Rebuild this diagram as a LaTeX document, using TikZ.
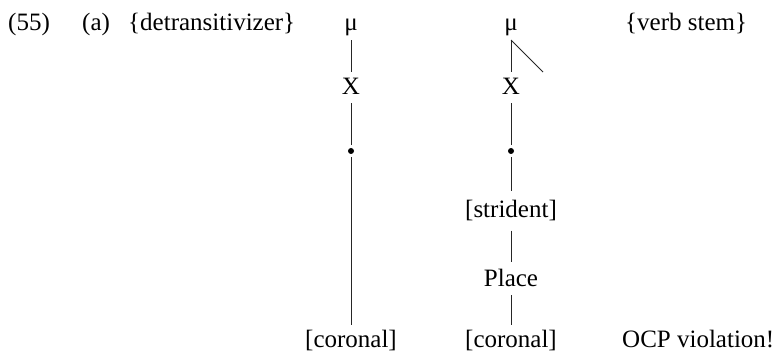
\documentclass[tikz,border=0pt]{standalone}
\usepackage{fontspec}
\setmainfont{Liberation Serif}
\begin{document}
\begin{tikzpicture}[x=1pt,y=-1pt,
  lab/.style={inner sep=0pt, anchor=base, font=\fontsize{25}{30}\selectfont},
  labl/.style={lab, anchor=base west},
  assoc/.style={line width=0.9pt, draw=black!85},
  dotnode/.style={circle, fill=black, inner sep=0pt, minimum size=6pt}]
\useasboundingbox (0,0) rectangle (779,355);
% top row
\node[labl] (ex) at (8,31) {(55)};
\node[labl] (sub) at (82,31) {(a)};
\node[labl] (detr) at (128,31) {\{detransitivizer\}};
\node[labl] (verb) at (625,31) {\{verb stem\}};
% left column
\node[lab] (mu1) at (351,31) {μ};
\node[lab] (x1) at (351,95) {X};
\node[dotnode] (d1) at (351,151) {};
\node[lab] (cor1) at (351,348) {[coronal]};
% right column
\node[lab] (mu2) at (511,31) {μ};
\node[lab] (x2) at (511,95) {X};
\node[dotnode] (d2) at (511,151) {};
\node[lab] (str) at (511,218) {[strident]};
\node[lab] (pl) at (511,287) {Place};
\node[lab] (cor2) at (511,348) {[coronal]};
\node[labl] (ocp) at (622,348) {OCP violation!};
\coordinate (m2top) at (511,40);
\coordinate (diagend) at (543,72);
% connectors
\draw[assoc, shorten <=3.6pt, shorten >=6.5pt] (mu1.south) -- (x1.north);
\draw[assoc, shorten <=8pt, shorten >=3pt] (x1.south) -- (d1.north);
\draw[assoc, shorten <=3pt, shorten >=5pt] (d1.south) -- (cor1.north);
\draw[assoc, shorten >=6.5pt] (m2top) -- (x2.north);
\draw[assoc] (m2top) -- (diagend);
\draw[assoc, shorten <=8pt, shorten >=3pt] (x2.south) -- (d2.north);
\draw[assoc, shorten <=3pt, shorten >=9pt] (d2.south) -- (str.north);
\draw[assoc, shorten <=9pt, shorten >=7.5pt] (str.south) -- (pl.north);
\draw[assoc, shorten <=8pt, shorten >=5pt] (pl.south) -- (cor2.north);
\end{tikzpicture}
\end{document}
